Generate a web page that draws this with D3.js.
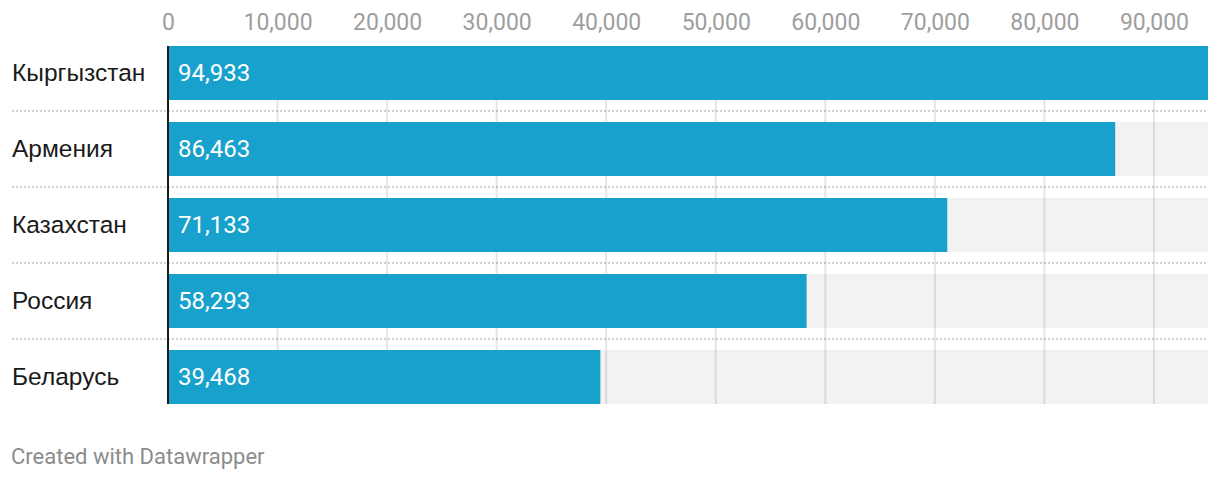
<!DOCTYPE html>
<html><head><meta charset="utf-8">
<script src="https://cdn.jsdelivr.net/npm/d3@7"></script>
<style>
html,body{margin:0;padding:0;background:#fff;}
svg{display:block;}
</style></head>
<body>
<script>
const categories = ["Кыргызстан","Армения","Казахстан","Россия","Беларусь"];
const values = [94933, 86463, 71133, 58293, 39468];
const tickValues = [0,10000,20000,30000,40000,50000,60000,70000,80000,90000];
const footerText = "Created with Datawrapper";

(function(){
const W = 1220, H = 480;
const svg = d3.select("body").append("svg").attr("width", W).attr("height", H);

const maxV = d3.max(values);
const x = d3.scaleLinear().domain([0, maxV]).range([168, 1208]);
const y = d3.scaleBand().domain(categories).range([35, 415]).paddingInner(22/76).paddingOuter(11/76);
const fmt = d3.format(",");

// row backgrounds
svg.append("g").selectAll("rect").data(categories).join("rect")
  .attr("x", x(0)).attr("y", d => y(d))
  .attr("width", x(maxV) - x(0)).attr("height", y.bandwidth())
  .attr("fill", "#f2f2f2");

// separators (dotted)
svg.append("g").selectAll("line").data(categories.slice(1)).join("line")
  .attr("x1", 12).attr("x2", 1208)
  .attr("y1", d => y(d) - 11).attr("y2", d => y(d) - 11)
  .attr("stroke", "#d0d0d0").attr("stroke-width", 2).attr("stroke-dasharray", "2,2");

// gridlines
const yTop = y(categories[0]), yBottom = y(categories[categories.length-1]) + y.bandwidth();
svg.append("g").selectAll("line").data(tickValues.slice(1)).join("line")
  .attr("x1", d => x(d)).attr("x2", d => x(d))
  .attr("y1", yTop).attr("y2", yBottom)
  .attr("stroke", "rgba(0,0,0,0.1)").attr("stroke-width", 2);

// bars
svg.append("g").selectAll("rect").data(categories).join("rect")
  .attr("x", x(0)).attr("y", d => y(d))
  .attr("width", (d,i) => x(values[i]) - x(0)).attr("height", y.bandwidth())
  .attr("fill", "#18a1cd");

// axis line
svg.append("line").attr("x1", x(0)).attr("x2", x(0)).attr("y1", yTop).attr("y2", yBottom)
  .attr("stroke", "#1a1a1a").attr("stroke-width", 2);

// tick labels via axis
const axis = d3.axisTop(x).tickValues(tickValues).tickFormat(fmt).tickSize(0).tickPadding(0);
const ag = svg.append("g").attr("transform", "translate(0,29.5)").call(axis);
ag.select(".domain").remove();
ag.selectAll("text").attr("fill", "#9e9e9e").attr("font-family", "Roboto")
  .attr("font-size", 23).attr("dy", 0).attr("y", 0);

// category labels
svg.append("g").selectAll("text").data(categories).join("text")
  .attr("x", 12).attr("y", d => y(d) + y.bandwidth()/2 + 8)
  .attr("font-family", "Liberation Sans, Arial, sans-serif").attr("font-size", 24.5)
  .attr("fill", "#1a1a1a").text(d => d);

// value labels
svg.append("g").selectAll("text").data(categories).join("text")
  .attr("x", x(0) + 10).attr("y", d => y(d) + y.bandwidth()/2 + 8)
  .attr("font-family", "Roboto").attr("font-size", 24)
  .attr("fill", "#ffffff").text((d,i) => fmt(values[i]));

// footer
svg.append("text").attr("x", 11).attr("y", 464)
  .attr("font-family", "Roboto").attr("font-size", 22).attr("fill", "#8c8c8c")
  .text(footerText);
})();
</script>
</body></html>
